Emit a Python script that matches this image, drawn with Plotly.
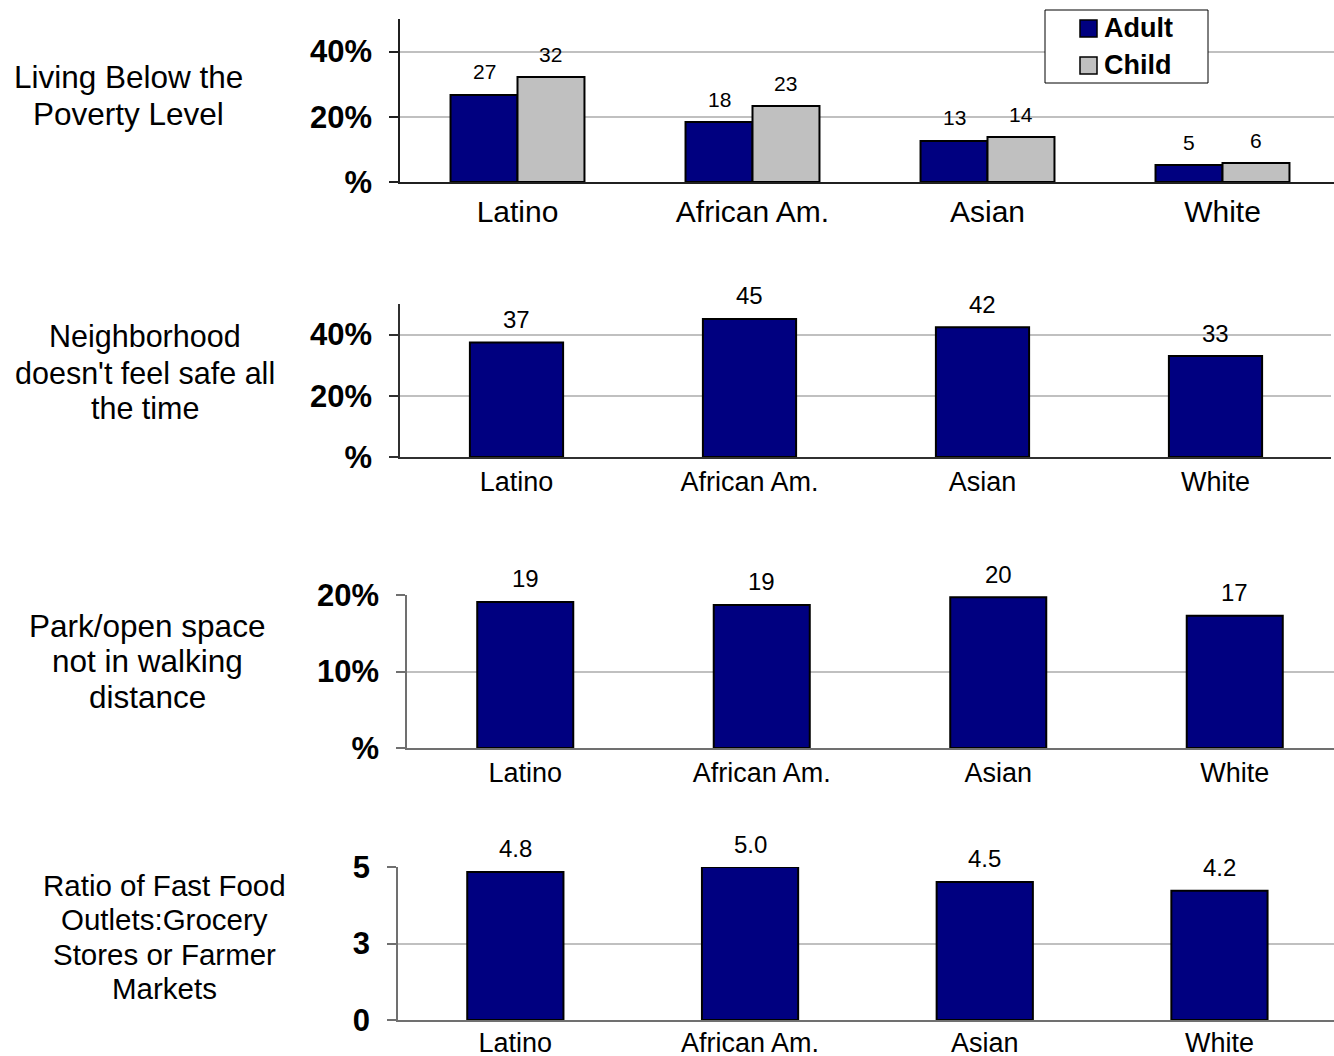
import plotly.graph_objects as go

W, H = 1334, 1056
FONT = "Arial, Liberation Sans, sans-serif"
NAVY = "#000080"
GRAY = "#C0C0C0"

categories = ["Latino", "African Am.", "Asian", "White"]

# Panel 1: Living below the poverty level
series_names = ["Adult", "Child"]
poverty_adult = [26.7, 18.4, 12.6, 5.2]
poverty_child = [32.2, 23.3, 13.8, 5.8]
# Panel 2: Neighborhood doesn't feel safe
unsafe = [37.4, 45.1, 42.4, 33.0]
# Panel 3: Park / open space not in walking distance
no_park = [19.1, 18.7, 19.7, 17.3]
# Panel 4: Ratio fast food : grocery
ratio = [4.84, 5.0, 4.51, 4.22]

panel_titles = [
    ["Living Below the", "Poverty Level"],
    ["Neighborhood", "doesn't feel safe all", "the time"],
    ["Park/open space", "not in walking", "distance"],
    ["Ratio of Fast Food", "Outlets:Grocery", "Stores or Farmer", "Markets"],
]

tick_vals = [[0, 20, 40], [0, 20, 40], [0, 10, 20], [0, 2.5, 5]]
tick_text = [["%", "20%", "40%"], ["%", "20%", "40%"], ["%", "10%", "20%"], ["0", "3", "5"]]
y_ranges = [[0, 50], [0, 50], [0, 20], [0, 5]]

# layout (pixels)
px_plot = [  # left, right, top, bottom, category spacing
    (400, 1334, 19, 182, 235.0),
    (400, 1331, 304, 457, 233.0),
    (407, 1334, 595, 748, 236.5),
    (398, 1334, 867, 1020, 234.7),
]
bar_w = [0.285, 0.40, 0.406, 0.41]
xtick_size = [30, 27, 27, 27]
xtick_standoff = [2, 0, 0, -2]
label_size = [21, 24, 24, 24]
label_fmt = ["{:.0f}", "{:.0f}", "{:.0f}", "{:.1f}"]
axis_col = ["#202020", "#303030", "#707070", "#707070"]
title_cx = [128, 145, 147, 164]
title_cy = [95.5, 372.5, 661, 937]
title_gap = [37, 35.5, 35.5, 34.5]
title_size = [31.5, 30.5, 31.5, 29.5]

fig = go.Figure()
line = dict(color="black", width=2)

# panel 1 (grouped)
fig.add_trace(go.Bar(x=categories, y=poverty_adult, name=series_names[0], marker=dict(color=NAVY, line=line),
                     width=bar_w[0], offset=-bar_w[0], xaxis="x", yaxis="y"))
fig.add_trace(go.Bar(x=categories, y=poverty_child, name=series_names[1], marker=dict(color=GRAY, line=line),
                     width=bar_w[0], offset=0, xaxis="x", yaxis="y"))
single = [unsafe, no_park, ratio]
for k, vals in enumerate(single, start=2):
    w = bar_w[k - 1]
    fig.add_trace(go.Bar(x=categories, y=vals, marker=dict(color=NAVY, line=line), width=w, offset=-w / 2,
                         xaxis=f"x{k}", yaxis=f"y{k}"))

annotations = []
shapes = []
def add_label(xref, yref, xpos, val, fmt, size):
    annotations.append(dict(x=xpos, y=val, xref=xref, yref=yref, text=fmt.format(val), showarrow=False,
                            yanchor="middle", yshift=23, font=dict(family=FONT, size=size, color="black")))

for i in range(4):
    add_label("x", "y", i - bar_w[0] / 2, poverty_adult[i], label_fmt[0], label_size[0])
    add_label("x", "y", i + bar_w[0] / 2, poverty_child[i], label_fmt[0], label_size[0])
for k, vals in enumerate(single, start=2):
    for i, v in enumerate(vals):
        add_label(f"x{k}", f"y{k}", i, v, label_fmt[k - 1], label_size[k - 1])

# left titles
for p in range(4):
    lines = panel_titles[p]
    n = len(lines)
    for j, t in enumerate(lines):
        cy = title_cy[p] + (j - (n - 1) / 2) * title_gap[p]
        annotations.append(dict(x=title_cx[p] / W, y=1 - cy / H, xref="paper", yref="paper", text=t,
                                showarrow=False, xanchor="center", yanchor="middle",
                                font=dict(family=FONT, size=title_size[p], color="black")))

# legend box (drawn manually to match the original framed legend)
lx0, lx1, ly0, ly1 = 1045, 1208, 10, 83
shapes.append(dict(type="rect", xref="paper", yref="paper", x0=lx0 / W, x1=lx1 / W, y0=1 - ly1 / H,
                   y1=1 - ly0 / H, fillcolor="white", line=dict(color="black", width=1), layer="above"))
for j, (nm, col) in enumerate(zip(series_names, [NAVY, GRAY])):
    cy = 28.5 + j * 37
    shapes.append(dict(type="rect", xref="paper", yref="paper", x0=1080 / W, x1=1097 / W,
                       y0=1 - (cy + 8.5) / H, y1=1 - (cy - 8.5) / H, fillcolor=col,
                       line=dict(color="black", width=1.5), layer="above"))
    annotations.append(dict(x=1102 / W, y=1 - cy / H, xref="paper", yref="paper", text=f"<b>{nm}</b>",
                            showarrow=False, xanchor="left", yanchor="middle",
                            font=dict(family=FONT, size=27, color="black")))

layout = dict(
    width=W, height=H, margin=dict(l=0, r=0, t=0, b=0, autoexpand=False),
    paper_bgcolor="white", plot_bgcolor="white", barmode="group",
    font=dict(family=FONT, color="black"),
    showlegend=False, hovermode=False,
    annotations=annotations, shapes=shapes,
)
for p in range(4):
    l, r, t, b, sp = px_plot[p]
    xr = [-0.5, -0.5 + (r - l) / sp]
    sfx = "" if p == 0 else str(p + 1)
    layout["xaxis" + sfx] = dict(domain=[l / W, r / W], anchor="y" + sfx, range=xr, type="category",
                                 showline=True, linecolor=axis_col[p], linewidth=1.5, ticks="",
                                 showgrid=False, tickfont=dict(family=FONT, size=xtick_size[p], color="black"),
                                 ticklabelstandoff=xtick_standoff[p], fixedrange=True)
    layout["yaxis" + sfx] = dict(domain=[1 - b / H, 1 - t / H], anchor="x" + sfx, range=y_ranges[p],
                                 tickvals=tick_vals[p], ticktext=tick_text[p], showline=True,
                                 linecolor=axis_col[p], linewidth=1.5, ticks="outside", ticklen=9,
                                 tickcolor=axis_col[p], tickwidth=1.5, showgrid=True, gridcolor=GRAY,
                                 gridwidth=2, zeroline=False, ticklabelstandoff=11, fixedrange=True,
                                 tickfont=dict(family=FONT, size=31, color="black", weight="bold"))
fig.update_layout(**layout)
# remove the default page margin so the figure sits at the window's top-left corner
fig.write_html("out.html", config={"displayModeBar": False},
               post_script="document.body.style.margin='0';document.body.style.overflow='hidden';")
